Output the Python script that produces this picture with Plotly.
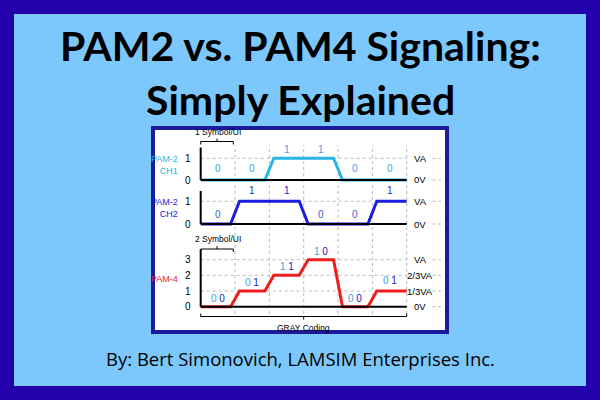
import plotly.graph_objects as go

ch1_bits = [0, 0, 1, 1, 0, 0]
ch2_bits = [0, 1, 1, 0, 0, 1]
pam4_levels = [0, 1, 2, 3, 0, 1]
pam4_codes = ["00", "01", "11", "10", "00", "01"]
pam2_right = ["0V", "VA"]
pam4_right = ["0V", "1/3VA", "2/3VA", "VA"]

W, H = 600, 400
def px(x): return x / W
def py(y): return (H - y) / H

C1 = "#2ab4e6"; C2 = "#1c1ce0"; C4 = "#ee1c1c"
LB = "#3fa0dc"; DB = "#2020d0"

R = 0.13
def wave(levels):
    xs, ys = [0], [levels[0]]
    for i in range(1, len(levels)):
        if levels[i] != levels[i - 1]:
            xs += [i - R, i + R]; ys += [levels[i - 1], levels[i]]
    xs.append(len(levels)); ys.append(levels[-1])
    return xs, ys

fig = go.Figure()
xl, xr = 200.7, 406.7
ppu = (xr - xl) / 6
xrange = [-0.15, 7.0]
xdom = [px(xl - 0.15 * ppu), px(xl + 7.0 * ppu)]

axes = {
    "y": ([-0.2, 1.8], 180, 21.7),
    "y2": ([-0.2, 1.8], 224, 22.7),
    "y3": ([-0.3, 3.9], 306.7, 15.67),
}
layout_axes = {}
for k, (rg, z, u) in axes.items():
    top = z - rg[1] * u; bot = z - rg[0] * u
    name = "yaxis" if k == "y" else "yaxis" + k[1:]
    layout_axes[name] = dict(domain=[py(bot), py(top)], range=rg, anchor="x",
                             showgrid=False, zeroline=False, showline=False,
                             tickvals=list(range(int(rg[1]) + 1)),
                             tickfont=dict(size=10, color="black", family="Liberation Sans"),
                             ticks="", ticklabelstandoff=4)

shapes = []
annots = []
def ann(**kw):
    kw.setdefault("showarrow", False)
    kw.setdefault("xanchor", "center")
    kw.setdefault("yanchor", "middle")
    annots.append(kw)

shapes.append(dict(type="rect", xref="paper", yref="paper", x0=px(7), x1=px(593), y0=py(393), y1=py(7),
                   line=dict(color="#2200aa", width=14), fillcolor="rgba(0,0,0,0)", layer="below"))
shapes.append(dict(type="rect", xref="paper", yref="paper", x0=px(153), x1=px(447), y0=py(332), y1=py(128),
                   line=dict(color="#1a1a9a", width=4), fillcolor="white", layer="below"))
for i in range(1, 7):
    shapes.append(dict(type="line", xref="x", yref="paper", x0=i, x1=i, y0=py(314), y1=py(145),
                       line=dict(color="#bbbbbb", width=1, dash="dot"), layer="below"))

def channel(yref, levels, color, rightlabels, toplvl):
    xs, ys = wave(levels)
    fig.add_trace(go.Scatter(x=xs, y=ys, mode="lines", line=dict(color=color, width=3),
                             yaxis=yref, xaxis="x", showlegend=False, hoverinfo="skip"))
    for lv, lab in enumerate(rightlabels):
        if lv > 0:
            shapes.append(dict(type="line", xref="x", yref=yref, x0=0, x1=6, y0=lv, y1=lv,
                               line=dict(color="#bbbbbb", width=1, dash="dot"), layer="below"))
        shapes.append(dict(type="line", xref="x", yref=yref, x0=6.75, x1=7.0, y0=lv, y1=lv,
                           line=dict(color="#bbbbbb", width=1, dash="dot"), layer="below"))
        ann(x=6.4, y=lv, xref="x", yref=yref, text=lab,
            font=dict(size=9.5, color="black", family="Liberation Sans"))
    shapes.append(dict(type="line", xref="x", yref=yref, x0=0, x1=6, y0=0, y1=0,
                       line=dict(color="black", width=2)))
    shapes.append(dict(type="line", xref="x", yref=yref, x0=0, x1=0, y0=0, y1=toplvl,
                       line=dict(color="black", width=2)))

channel("y", ch1_bits, C1, pam2_right, 1.5)
channel("y2", ch2_bits, C2, pam2_right, 1.45)
channel("y3", pam4_levels, C4, pam4_right, 3.65)

for i, b in enumerate(ch1_bits):
    ann(x=i + 0.5, y=1.42 if b else 0.54, xref="x", yref="y", text=str(b),
        font=dict(size=10, color=LB, family="Liberation Sans"))
for i, b in enumerate(ch2_bits):
    ann(x=i + 0.5, y=1.47 if b else 0.43, xref="x", yref="y2", text=str(b),
        font=dict(size=10, color=DB if b else "#3a5fcf", family="Liberation Sans"))
for i, (lv, c) in enumerate(zip(pam4_levels, pam4_codes)):
    t = f"<span style='color:{LB}'>{c[0]}</span> <span style='color:{DB}'>{c[1]}</span>"
    ann(x=i + 0.5, y=lv + (0.66 if i == 5 else 0.55), xref="x", yref="y3", text=t,
        font=dict(size=10, family="Liberation Sans"))

for txt, y, col in [("PAM-2<br>CH1", 164.5, C1), ("PAM-2<br>CH2", 207.5, C2), ("PAM-4", 279, C4)]:
    ann(x=px(180), y=py(y), xref="paper", yref="paper", text=txt, align="right", xanchor="right",
        font=dict(size=9, color=col, family="Liberation Sans"))

def bracket(x0, x1, y, down_mid):
    d = 3
    shapes.append(dict(type="line", xref="x", yref="paper", x0=x0, x1=x1, y0=py(y), y1=py(y), line=dict(color="black", width=1)))
    for xx in (x0, x1):
        shapes.append(dict(type="line", xref="x", yref="paper", x0=xx, x1=xx, y0=py(y), y1=py(y + (-d if down_mid else d)), line=dict(color="black", width=1)))
    m = (x0 + x1) / 2
    shapes.append(dict(type="line", xref="x", yref="paper", x0=m, x1=m, y0=py(y), y1=py(y + (d if down_mid else -d)), line=dict(color="black", width=1)))

bracket(0, 0.95, 141.5, False)
bracket(0, 0.95, 249, False)
bracket(0, 6, 316.5, True)
ann(x=0.5, y=py(132), xref="x", yref="paper", text="1 Symbol/UI",
    font=dict(size=8.5, color="black", family="Liberation Sans"))
ann(x=0.5, y=py(239), xref="x", yref="paper", text="2 Symbol/UI",
    font=dict(size=8.5, color="black", family="Liberation Sans"))
ann(x=3, y=py(328), xref="x", yref="paper", text="GRAY Coding",
    font=dict(size=8.5, color="black", family="Liberation Sans"))

ann(x=0.5, y=py(45), xref="paper", yref="paper", text="<b>PAM2 vs. PAM4 Signaling:</b>",
    font=dict(size=41, color="black", family="Lato"))
ann(x=0.5, y=py(99), xref="paper", yref="paper", text="<b>Simply Explained</b>",
    font=dict(size=41, color="black", family="Lato"))
ann(x=0.5, y=py(358), xref="paper", yref="paper", text="By: Bert Simonovich, LAMSIM Enterprises Inc.",
    font=dict(size=18.5, color="black", family="Open Sans"))

fig.update_layout(width=W, height=H, margin=dict(l=0, r=0, t=0, b=0),
                  paper_bgcolor="#7cc8fc", plot_bgcolor="rgba(0,0,0,0)",
                  xaxis=dict(domain=xdom, range=xrange, visible=False),
                  shapes=shapes, annotations=annots, **layout_axes)
fig.write_html("out.html", config={"displayModeBar": False},
               post_script="document.body.style.margin='0';")
